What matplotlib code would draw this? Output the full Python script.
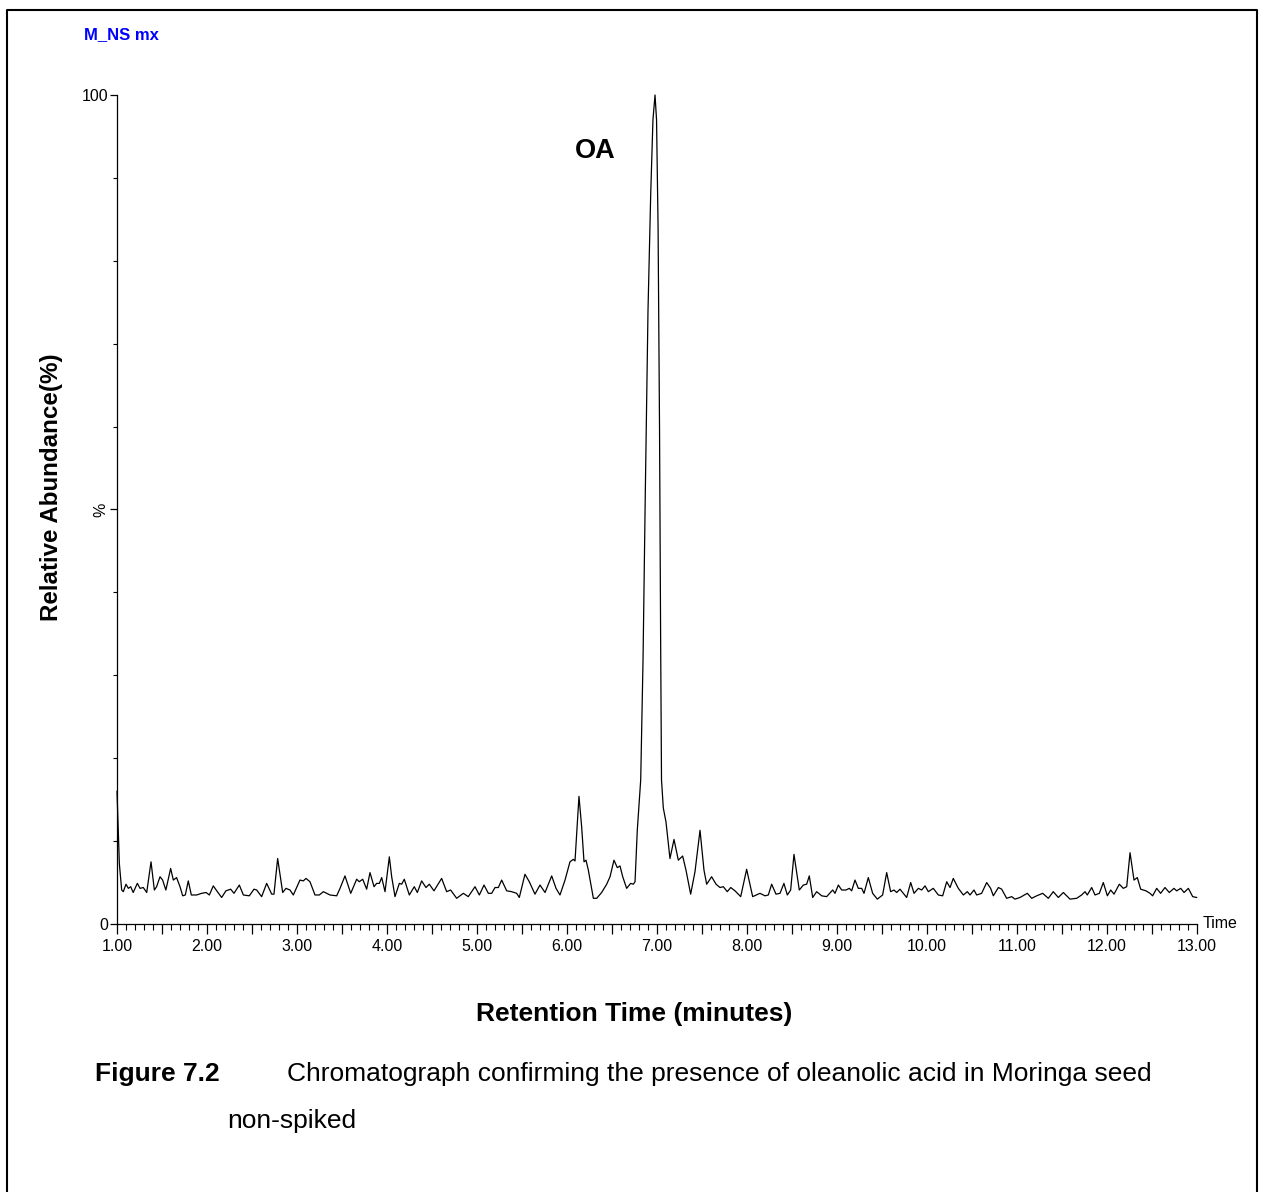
import numpy as np
import matplotlib
matplotlib.use("Agg")
import matplotlib.pyplot as plt
from matplotlib.ticker import MultipleLocator, FixedLocator, FuncFormatter
from matplotlib.lines import Line2D

# Chromatogram trace: retention time (min) and relative abundance (%)
time_min = [
    1.000, 1.026, 1.052, 1.070, 1.100, 1.126, 1.152, 1.180, 1.226, 1.256, 1.292, 1.330,
    1.378, 1.415, 1.440, 1.478, 1.507, 1.543, 1.596, 1.626, 1.662, 1.700, 1.730, 1.759,
    1.792, 1.826, 1.885, 1.940, 1.990, 2.026, 2.070, 2.115, 2.163, 2.210, 2.263, 2.300,
    2.359, 2.404, 2.470, 2.522, 2.552, 2.607, 2.663, 2.719, 2.744, 2.785, 2.841, 2.878,
    2.922, 2.959, 3.033, 3.070, 3.100, 3.144, 3.200, 3.248, 3.293, 3.367, 3.441, 3.478,
    3.533, 3.597, 3.663, 3.692, 3.730, 3.774, 3.811, 3.856, 3.885, 3.915, 3.941, 3.978,
    4.026, 4.052, 4.089, 4.137, 4.163, 4.192, 4.248, 4.303, 4.337, 4.385, 4.433, 4.470,
    4.522, 4.607, 4.663, 4.707, 4.774, 4.848, 4.903, 4.978, 5.026, 5.078, 5.126, 5.163,
    5.200, 5.237, 5.274, 5.330, 5.385, 5.441, 5.470, 5.533, 5.581, 5.644, 5.700, 5.756,
    5.830, 5.878, 5.922, 5.978, 6.033, 6.070, 6.089, 6.133, 6.163, 6.189, 6.211, 6.237,
    6.293, 6.330, 6.385, 6.441, 6.478, 6.522, 6.559, 6.589, 6.619, 6.663, 6.707, 6.737,
    6.756, 6.781, 6.819, 6.845, 6.870, 6.900, 6.930, 6.955, 6.978, 6.995, 7.012, 7.028,
    7.040, 7.050, 7.070, 7.100, 7.144, 7.189, 7.237, 7.285, 7.322, 7.374, 7.422, 7.478,
    7.522, 7.552, 7.607, 7.656, 7.700, 7.737, 7.781, 7.819, 7.867, 7.930, 7.996, 8.063,
    8.144, 8.200, 8.237, 8.274, 8.322, 8.367, 8.410, 8.448, 8.485, 8.522, 8.581, 8.626,
    8.663, 8.692, 8.730, 8.774, 8.830, 8.885, 8.952, 8.978, 9.015, 9.052, 9.100, 9.137,
    9.163, 9.200, 9.237, 9.274, 9.300, 9.348, 9.396, 9.448, 9.507, 9.552, 9.596, 9.633,
    9.663, 9.700, 9.737, 9.774, 9.819, 9.856, 9.904, 9.941, 9.978, 10.015, 10.070, 10.126,
    10.174, 10.219, 10.256, 10.292, 10.348, 10.404, 10.448, 10.478, 10.522, 10.552, 10.607,
    10.663, 10.707, 10.737, 10.793, 10.830, 10.885, 10.941, 10.978, 11.033, 11.115, 11.163,
    11.219, 11.285, 11.348, 11.403, 11.459, 11.515, 11.589, 11.663, 11.718, 11.756, 11.781,
    11.830, 11.867, 11.915, 11.959, 12.004, 12.041, 12.078, 12.137, 12.181, 12.219, 12.256,
    12.300, 12.337, 12.374, 12.433, 12.478, 12.507, 12.552, 12.596, 12.644, 12.692, 12.744,
    12.774, 12.819, 12.856, 12.904, 12.952, 12.996,
]
abundance = [
    16.0, 7.3, 4.1, 3.9, 4.8, 4.3, 4.5, 3.8, 4.9, 4.3, 4.4, 3.8,
    7.5, 4.1, 4.5, 5.7, 5.3, 4.1, 6.7, 5.3, 5.6, 4.5, 3.4, 3.5,
    5.2, 3.5, 3.5, 3.7, 3.8, 3.5, 4.6, 3.9, 3.2, 4.0, 4.2, 3.7,
    4.7, 3.5, 3.4, 4.2, 4.1, 3.3, 4.9, 3.6, 3.6, 7.9, 3.8, 4.3,
    4.1, 3.5, 5.3, 5.2, 5.5, 5.1, 3.5, 3.5, 3.9, 3.5, 3.4, 4.3,
    5.8, 3.7, 5.4, 5.1, 5.4, 4.2, 6.2, 4.5, 4.9, 4.9, 5.6, 3.9,
    8.1, 5.7, 3.3, 4.9, 4.8, 5.4, 3.5, 4.5, 3.8, 5.2, 4.4, 4.8,
    4.0, 5.5, 3.9, 4.1, 3.1, 3.7, 3.3, 4.5, 3.5, 4.7, 3.7, 3.7,
    4.4, 4.4, 5.3, 4.0, 3.9, 3.7, 3.2, 6.0, 5.1, 3.6, 4.7, 3.8,
    5.8, 4.3, 3.5, 5.3, 7.5, 7.8, 7.6, 15.4, 11.7, 7.5, 7.7, 6.5,
    3.1, 3.1, 3.8, 4.8, 5.7, 7.7, 6.8, 7.0, 5.7, 4.3, 4.9, 4.8,
    5.1, 11.3, 17.4, 32.0, 52.0, 74.0, 88.0, 97.0, 100.0, 97.0, 84.0, 60.0,
    35.0, 17.4, 14.0, 12.3, 7.9, 10.2, 7.7, 8.2, 6.5, 3.6, 6.3, 11.3,
    6.5, 4.8, 5.7, 4.8, 4.4, 4.5, 3.9, 4.4, 4.0, 3.3, 6.6, 3.3,
    3.7, 3.4, 3.5, 4.8, 3.6, 3.7, 4.9, 3.5, 4.1, 8.4, 4.1, 4.7,
    4.8, 5.8, 3.2, 3.9, 3.4, 3.3, 4.1, 3.7, 4.7, 4.1, 4.1, 4.3,
    4.0, 5.3, 4.3, 4.3, 3.7, 5.6, 3.7, 3.0, 3.5, 6.2, 3.9, 4.1,
    3.8, 4.2, 3.7, 3.2, 5.0, 3.7, 4.3, 4.1, 4.6, 3.9, 4.3, 3.5,
    3.4, 5.1, 4.4, 5.5, 4.3, 3.5, 3.9, 3.5, 4.1, 3.5, 3.7,
    5.0, 4.3, 3.4, 4.4, 4.2, 3.1, 3.3, 3.0, 3.2, 3.7, 3.1,
    3.4, 3.7, 3.1, 3.9, 3.2, 3.8, 3.0, 3.1, 3.5, 3.9, 3.5,
    4.4, 3.5, 3.7, 5.0, 3.4, 4.1, 3.6, 4.8, 4.3, 4.5, 8.6,
    5.3, 5.6, 4.2, 4.0, 3.7, 3.4, 4.3, 3.7, 4.4, 3.8, 4.3,
    4.0, 4.3, 3.8, 4.3, 3.3, 3.2,
]

y_labels = {0: "0", 50: "%", 100: "100"}

plt.rcParams["font.family"] = ["Liberation Sans", "DejaVu Sans"]

W, H = 1261, 1192
fig = plt.figure(figsize=(W / 100, H / 100), dpi=100)
ax = fig.add_axes([117 / W, 1 - 924 / H, (1197 - 117) / W, (924 - 95) / H])

ax.plot(time_min, abundance, color="black", lw=0.9, clip_on=False)

ax.set_xlim(1, 13)
ax.set_ylim(0, 100)
for s in ["top", "right"]:
    ax.spines[s].set_visible(False)
for s in ["left", "bottom"]:
    ax.spines[s].set_linewidth(0.9)

# x ticks: long at whole minutes, medium at halves, short every 0.1
ax.xaxis.set_major_locator(MultipleLocator(0.5))
ax.xaxis.set_minor_locator(MultipleLocator(0.1))
ax.xaxis.set_major_formatter(FuncFormatter(lambda v, p: f"{v:.2f}" if abs(v - round(v)) < 1e-6 else ""))
ax.tick_params(axis="x", which="major", length=7, width=0.9, pad=4, labelsize=11.5)
ax.tick_params(axis="x", which="minor", length=4, width=0.8)
for t in ax.xaxis.get_major_ticks():
    if abs(t.get_loc() - round(t.get_loc())) > 1e-6:
        t.tick1line.set_markersize(6)
        t.label1.set_visible(False)

ax.yaxis.set_major_locator(FixedLocator(list(y_labels.keys())))
ax.yaxis.set_major_formatter(FuncFormatter(lambda v, p: y_labels.get(int(round(v)), "")))
ax.yaxis.set_minor_locator(MultipleLocator(10))
ax.tick_params(axis="y", which="major", length=5, width=0.9, pad=1, labelsize=11.5)
ax.tick_params(axis="y", which="minor", length=3, width=0.8)
for lab in ax.get_yticklabels():
    if lab.get_text() == "%":
        lab.set_rotation(90)
        lab.set_va("center")

ax.text(6.31, 93.3, "OA", ha="center", va="center", fontsize=19.5, fontweight="bold")

fig.text(1203 / W, 1 - 924 / H, "Time", ha="left", va="center", fontsize=11.5)
fig.text(84 / W, 1 - 35 / H, "M_NS mx", ha="left", va="center", fontsize=12,
         fontweight="bold", color="#0000ff")
fig.text(634 / W, 1 - 1014 / H, "Retention Time (minutes)", ha="center", va="center",
         fontsize=19, fontweight="bold")
fig.text(52 / W, 1 - 487 / H, "Relative Abundance(%)", ha="center", va="center",
         rotation=90, fontsize=17.4, fontweight="bold")
fig.text(95 / W, 1 - 1074 / H, "Figure 7.2", ha="left", va="center", fontsize=19, fontweight="bold")
fig.text(287 / W, 1 - 1074 / H,
         "Chromatograph confirming the presence of oleanolic acid in Moringa seed",
         ha="left", va="center", fontsize=19)
fig.text(227 / W, 1 - 1121 / H, "non-spiked", ha="left", va="center", fontsize=19)

# page border (left, top, right)
fig.add_artist(Line2D([7 / W, 7 / W, 1257 / W, 1257 / W], [0, 1 - 10 / H, 1 - 10 / H, 0],
                      transform=fig.transFigure, color="black", lw=1.5))

fig.savefig("out.png", dpi=100)
